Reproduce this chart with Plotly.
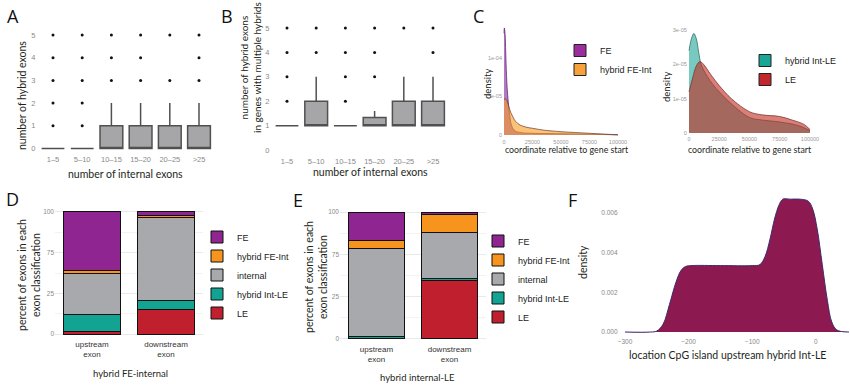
import plotly.graph_objects as go

W, H = 850, 386

# ---------------- data: panels A / B (box summaries) ----------------
categories = ["1–5", "5–10", "10–15", "15–20", "20–25", ">25"]
a_q1 = [0, 0, 0, 0, 0, 0]
a_median = [0, 0, 0, 0, 0, 0]
a_q3 = [0, 0, 1, 1, 1, 1]
a_lowerfence = [0, 0, 0, 0, 0, 0]
a_upperfence = [0, 0, 2, 2, 2, 2]
a_outliers = [[1, 2, 3, 4, 5], [1, 2, 3, 4, 5], [3, 4, 5], [3, 4, 5], [3, 5], [3, 4, 5]]

b_q1 = [1, 1, 1, 1, 1, 1]
b_median = [1, 1, 1, 1, 1, 1]
b_q3 = [1, 2, 1, 1.33, 2, 2]
b_lowerfence = [1, 1, 1, 1, 1, 1]
b_upperfence = [1, 3, 1, 1.6, 3, 3]
b_outliers = [[2, 3, 4, 5], [4, 5], [2, 3, 4, 5], [3, 4, 5], [5], [4, 5]]

# ---------------- data: panel C (densities) ----------------
fe_x = [0, 300, 1000, 1500, 2000, 2500, 3000, 3500, 4000, 5000, 6000, 8000, 10000, 15000, 25000, 50000, 75000, 100000]
fe_y = [1.32e-4, 1.39e-4, 1.3e-4, 1.08e-4, 8.5e-5, 6.8e-5, 5.6e-5, 4.7e-5, 3.9e-5, 2.6e-5, 1.6e-5, 8e-6, 5e-6, 3e-6, 2.2e-6, 1.6e-6, 1e-6, 2e-7]
fei_x = [0, 1000, 2000, 3000, 4000, 5000, 6000, 8000, 10000, 14000, 20000, 25000, 35000, 50000, 62500, 75000, 87500, 100000]
fei_y = [4.6e-5, 4.7e-5, 4.6e-5, 4.3e-5, 3.8e-5, 3.3e-5, 2.9e-5, 2.3e-5, 1.8e-5, 1.3e-5, 1.0e-5, 8.7e-6, 6.3e-6, 4.3e-6, 3.2e-6, 2.2e-6, 1.2e-6, 2e-7]
intle_x = [0, 2000, 4000, 6000, 8000, 10000, 15000, 20000, 25000, 35000, 50000, 60000, 75000, 90000, 100000]
intle_y = [2.4e-5, 2.75e-5, 2.9e-5, 2.75e-5, 2.35e-5, 2.0e-5, 1.65e-5, 1.4e-5, 1.2e-5, 8.5e-6, 4.5e-6, 3.8e-6, 3.2e-6, 2.2e-6, 7e-7]
le_x = [0, 3000, 6000, 9000, 12000, 18000, 25000, 35000, 50000, 60000, 75000, 85000, 95000, 100000]
le_y = [1.2e-5, 1.6e-5, 1.95e-5, 2.08e-5, 2.0e-5, 1.7e-5, 1.38e-5, 1.0e-5, 6.2e-6, 5.3e-6, 4.8e-6, 3.8e-6, 2.5e-6, 1e-6]
c_xticks = [0, 25000, 50000, 75000, 100000]
c_xticklabels = ["0", "25000", "50000", "75000", "100000"]
cl_yticks = [0, 5e-5, 1e-4]
cl_yticklabels = ["0", "5e-05", "1e-04"]
cr_yticks = [0, 1e-5, 2e-5, 3e-5]
cr_yticklabels = ["0", "1e-05", "2e-05", "3e-05"]

# ---------------- data: panels D / E (stacked percentages) ----------------
positions = ["upstream<br>exon", "downstream<br>exon"]
classes = ["LE", "hybrid Int-LE", "internal", "hybrid FE-Int", "FE"]  # bottom -> top
d_values = {
    "LE": [1.8, 19.9],
    "hybrid Int-LE": [14.2, 7.7],
    "internal": [33.9, 68.0],
    "hybrid FE-Int": [2.5, 1.6],
    "FE": [47.6, 2.8],
}
e_values = {
    "LE": [0.5, 45.9],
    "hybrid Int-LE": [1.6, 2.1],
    "internal": [69.3, 36.0],
    "hybrid FE-Int": [6.3, 13.9],
    "FE": [22.3, 2.1],
}
de_yticks = [0, 33.33, 66.67, 100]
de_yticklabels = ["0", "25", "75", "100"]

# ---------------- data: panel F ----------------
f_x = [-300, -260, -250, -240, -230, -220, -212, -205, -195, -150, -100, -88, -80, -72, -65, -58, -52, -40, -25, -12, -5, 2, 10, 18, 25, 33, 52]
f_y = [0, 0, 0.00005, 0.0004, 0.0014, 0.0025, 0.0031, 0.0033, 0.00335, 0.00335, 0.00335, 0.0034, 0.0038, 0.0047, 0.0057, 0.0064, 0.0067, 0.0067, 0.0067, 0.0066, 0.0062, 0.0052, 0.0034, 0.0016, 0.0005, 0.0001, 0]
f_xticks = [-300, -200, -100, 0]
f_yticks = [0, 0.002, 0.004, 0.006]
f_yticklabels = ["0.000", "0.002", "0.004", "0.006"]

# ---------------- styles ----------------
COL = {
    "FE": "#8e2590",
    "hybrid FE-Int": "#f7941d",
    "internal": "#a7a9ac",
    "hybrid Int-LE": "#12a393",
    "LE": "#c0202e",
}
TITLE_FONT = "Lato, 'Open Sans', sans-serif"
TICK_FONT = "'Liberation Sans', Arial, sans-serif"


def px(x):
    return x / W


def py(y):
    return 1 - y / H


fig = go.Figure()

# ---- A & B boxplots ----
for (q1, med, q3, lf, uf, outl, xa, ya) in [
    (a_q1, a_median, a_q3, a_lowerfence, a_upperfence, a_outliers, "x", "y"),
    (b_q1, b_median, b_q3, b_lowerfence, b_upperfence, b_outliers, "x2", "y2"),
]:
    fig.add_trace(go.Box(
        x=categories, q1=q1, median=med, q3=q3, lowerfence=lf, upperfence=uf,
        boxpoints=False, width=0.78, whiskerwidth=0,
        fillcolor="#a6a6a8", line=dict(color="#505050", width=1.5),
        xaxis=xa, yaxis=ya, showlegend=False, hoverinfo="skip",
    ))
    ox, oy = [], []
    for cat, pts in zip(categories, outl):
        for v in pts:
            ox.append(cat)
            oy.append(v)
    fig.add_trace(go.Scatter(
        x=ox, y=oy, mode="markers", marker=dict(color="#111", size=3),
        xaxis=xa, yaxis=ya, showlegend=False, hoverinfo="skip",
    ))

# ---- C densities ----
fig.add_trace(go.Scatter(x=fe_x, y=fe_y, mode="lines", fill="tozeroy", line_shape="spline",
                         fillcolor="rgba(130,30,163,0.6)", line=dict(color="rgba(80,30,100,0.9)", width=0.8),
                         xaxis="x3", yaxis="y3", showlegend=False, hoverinfo="skip"))
fig.add_trace(go.Scatter(x=fei_x, y=fei_y, mode="lines", fill="tozeroy", line_shape="spline",
                         fillcolor="rgba(247,155,30,0.6)", line=dict(color="rgba(110,60,40,0.9)", width=0.8),
                         xaxis="x3", yaxis="y3", showlegend=False, hoverinfo="skip"))
fig.add_trace(go.Scatter(x=intle_x, y=intle_y, mode="lines", fill="tozeroy", line_shape="spline",
                         fillcolor="rgba(30,165,150,0.6)", line=dict(color="#3a6e66", width=0.8),
                         xaxis="x4", yaxis="y4", showlegend=False, hoverinfo="skip"))
fig.add_trace(go.Scatter(x=le_x, y=le_y, mode="lines", fill="tozeroy", line_shape="spline",
                         fillcolor="rgba(195,40,30,0.6)", line=dict(color="#7a3a30", width=0.8),
                         xaxis="x4", yaxis="y4", showlegend=False, hoverinfo="skip"))
# legend keys for C
for name, col, xa, ya, lg in [("FE", "#9b2d9f", "x3", "y3", "legend"),
                              ("hybrid FE-Int", "#f7a13a", "x3", "y3", "legend"),
                              ("hybrid Int-LE", "#1aa597", "x4", "y4", "legend2"),
                              ("LE", "#c1272d", "x4", "y4", "legend2")]:
    fig.add_trace(go.Bar(x=[None], y=[None], name=name, marker=dict(color=col, line=dict(color="#222", width=1)),
                         xaxis=xa, yaxis=ya, legend=lg, showlegend=True))

# ---- D & E stacked bars ----
for vals, xa, ya, lg in [(d_values, "x5", "y5", "legend3"), (e_values, "x6", "y6", "legend4")]:
    for cls in classes:
        fig.add_trace(go.Bar(
            x=positions, y=vals[cls], name=cls, width=0.77,
            marker=dict(color=COL[cls], line=dict(color="#111", width=1)),
            xaxis=xa, yaxis=ya, legend=lg, hoverinfo="skip",
        ))

# ---- F density ----
fig.add_trace(go.Scatter(x=f_x, y=f_y, mode="lines", fill="tozeroy", line_shape="spline",
                         fillcolor="#8c1950", line=dict(color="#3d2b6e", width=1),
                         xaxis="x7", yaxis="y7", showlegend=False, hoverinfo="skip"))


def base_axis(domain, rng, anchor, **kw):
    d = dict(domain=domain, range=rng, anchor=anchor, showgrid=False, zeroline=False,
             showline=False, ticks="", fixedrange=True)
    d.update(kw)
    return d


tick_ab = dict(family=TICK_FONT, size=7.5, color="#8a8a8a")
tick_c = dict(family=TICK_FONT, size=5.5, color="#999")
tick_de = dict(family=TICK_FONT, size=6.5, color="#888")
tick_f = dict(family=TICK_FONT, size=6.5, color="#888")

layout = dict(
    width=W, height=H, margin=dict(l=0, r=0, t=0, b=0, autoexpand=False),
    paper_bgcolor="white", plot_bgcolor="white", barmode="stack", boxmode="overlay",
    showlegend=True,
    # A
    xaxis=base_axis([px(38.4), px(213.6)], [-0.5, 5.5], "y", type="category",
                    tickfont=tick_ab, ticklabelstandoff=2),
    yaxis=base_axis([py(151.9), py(28.2)], [-0.15, 5.3], "x", tickvals=[0, 1, 2, 3, 4, 5],
                    tickfont=tick_ab, ticklabelstandoff=2),
    # B
    xaxis2=base_axis([px(272.4), px(447.6)], [-0.5, 5.5], "y2", type="category",
                     tickfont=tick_ab, ticklabelstandoff=2),
    yaxis2=base_axis([py(153.7), py(20.7)], [-0.15, 5.3], "x2", tickvals=[0, 1, 2, 3, 4, 5],
                     tickfont=tick_ab, ticklabelstandoff=2),
    # C left
    xaxis3=base_axis([px(503), px(620)], [-880, 101750], "y3", tickvals=c_xticks,
                     ticktext=c_xticklabels, tickfont=tick_c),
    yaxis3=base_axis([py(137.3), py(23.35)], [-3e-6, 1.45e-4], "x3", tickvals=cl_yticks,
                     ticktext=cl_yticklabels, tickfont=tick_c),
    # C right
    xaxis4=base_axis([px(687.8), px(811.2)], [-1000, 101000], "y4", tickvals=c_xticks,
                     ticktext=c_xticklabels, tickfont=tick_c),
    yaxis4=base_axis([py(134.7), py(28.3)], [-0.5e-6, 3.05e-5], "x4", tickvals=cr_yticks,
                     ticktext=cr_yticklabels, tickfont=tick_c),
    # D
    xaxis5=base_axis([px(55), px(203)], [-0.5, 1.5], "y5", type="category",
                     tickfont=dict(family=TICK_FONT, size=8, color="#333")),
    yaxis5=base_axis([py(337.7), py(208.3)], [-3, 103], "x5", tickvals=de_yticks,
                     ticktext=de_yticklabels, tickfont=tick_de, showgrid=True,
                     gridcolor="#e9e9e9", gridwidth=1,
                     minor=dict(tickvals=[16.67, 50, 83.33], showgrid=True, gridcolor="#f3f3f3")),
    # E
    xaxis6=base_axis([px(340), px(486)], [-0.5, 1.5], "y6", type="category",
                     tickfont=dict(family=TICK_FONT, size=8, color="#333")),
    yaxis6=base_axis([py(342.8), py(208.2)], [-3, 103], "x6", tickvals=de_yticks,
                     ticktext=de_yticklabels, tickfont=tick_de, showgrid=True,
                     gridcolor="#e9e9e9", gridwidth=1,
                     minor=dict(tickvals=[16.67, 50, 83.33], showgrid=True, gridcolor="#f3f3f3")),
    # F
    xaxis7=base_axis([px(618.6), px(849)], [-310, 52], "y7", tickvals=f_xticks, tickfont=tick_f),
    yaxis7=base_axis([py(336), py(195.2)], [-0.0002, 0.0069], "x7", tickvals=f_yticks,
                     ticktext=f_yticklabels, tickfont=tick_f),
)

leg_font = dict(family=TICK_FONT, size=9, color="#222")
common_leg = dict(xanchor="left", yanchor="middle", font=leg_font, bgcolor="rgba(0,0,0,0)",
                  borderwidth=0, itemclick=False, itemdoubleclick=False)
layout["legend"] = dict(x=px(560), y=py(60), traceorder="normal", **common_leg)
layout["legend2"] = dict(x=px(745), y=py(70), traceorder="normal", **common_leg)
layout["legend3"] = dict(x=px(197), y=py(275), traceorder="reversed", **common_leg)
layout["legend4"] = dict(x=px(478), y=py(279), traceorder="reversed", **common_leg)

fig.update_layout(**layout)

TXT = "#231f20"
anns = []


def add_text(x, y, text, size, angle=0, color=TXT, family=TITLE_FONT):
    anns.append(dict(x=px(x), y=py(y), xref="paper", yref="paper", text=text, showarrow=False,
                     xanchor="center", yanchor="middle", textangle=angle,
                     font=dict(family=family, size=size, color=color)))


# panel letters
for letter, x, y in [("A", 13, 16), ("B", 227, 16), ("C", 478, 16), ("D", 12, 199), ("E", 298, 200), ("F", 572, 200)]:
    add_text(x, y, letter, 18, family="'Open Sans', Lato, sans-serif", color="#111")

# A
add_text(126, 174, "number of internal exons", 10.5)
add_text(22, 96, "number of hybrid exons", 10.5, angle=-90)
# B
add_text(370, 172, "number of internal exons", 10.5)
add_text(251, 68, "number of hybrid exons<br>in genes with multiple hybrids", 10, angle=-90)
# C
add_text(567, 149, "coordinate relative to gene start", 8.8)
add_text(487, 84, "density", 9.5, angle=-90)
add_text(750, 149, "coordinate relative to gene start", 8.8)
add_text(666, 87, "density", 9.5, angle=-90)
# D
add_text(29, 275, "percent of exons in each<br>exon classification", 10.5, angle=-90)
add_text(130, 373, "hybrid FE-internal", 9.5)
# E
add_text(316, 277, "percent of exons in each<br>exon classification", 10.5, angle=-90)
add_text(417, 377, "hybrid internal-LE", 9.5)
# F
add_text(583, 262, "density", 10.5, angle=-90)
add_text(727, 355, "location CpG island upstream hybrid Int-LE", 10.5)

fig.update_layout(annotations=anns)

fig.write_html("out.html",
               config={"displayModeBar": False},
               post_script="document.body.style.margin='0px';document.body.style.overflow='hidden';")
